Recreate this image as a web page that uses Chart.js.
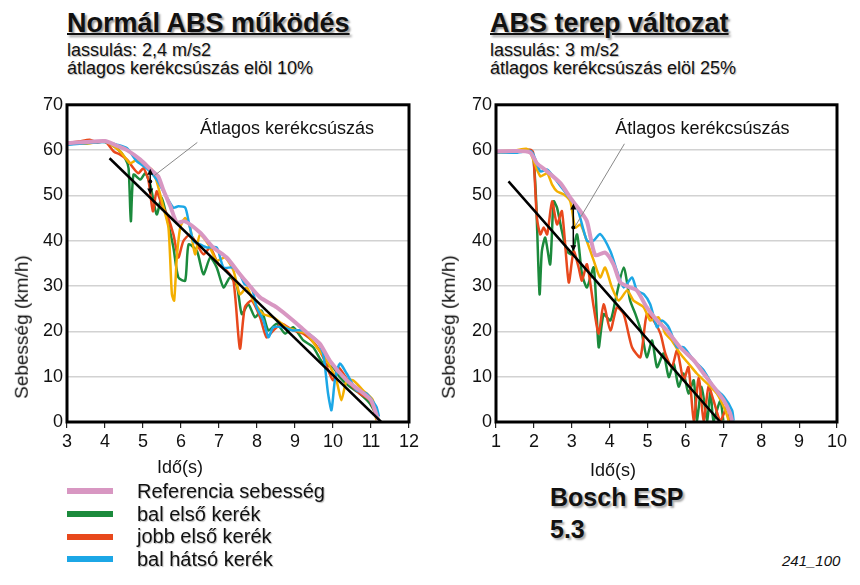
<!DOCTYPE html>
<html>
<head>
<meta charset="utf-8">
<script src="https://cdn.jsdelivr.net/npm/chart.js@4.4.0/dist/chart.umd.min.js"></script>
<style>
  body { margin: 0; background: #fff; width: 860px; height: 585px; position: relative; overflow: hidden;
         font-family: "Liberation Sans", Arial, sans-serif; color: #111; }
  .t { position: absolute; white-space: nowrap; }
  .title { font-weight: bold; font-size: 27px; line-height: 26px; text-decoration: underline;
           text-decoration-thickness: 2px; text-shadow: 2px 2px 2px #9a9a9a; }
  .sub { font-size: 18px; line-height: 17.5px; text-shadow: 1px 1px 1px #bbb; }
  .ytitle { font-size: 19px; transform: rotate(-90deg); transform-origin: center; }
  .xtitle { font-size: 18px; }
  .leg { position: absolute; left: 67px; top: 480px; }
  .leg div { display: flex; align-items: center; height: 22.7px; font-size: 20px; text-shadow: 1px 1px 1px #bbb; }
  .leg span.sw { display: inline-block; width: 46px; height: 6px; margin-right: 24px; }
  .bosch { font-weight: bold; font-size: 25px; line-height: 32px; text-shadow: 2px 2px 2px #aaa; }
  canvas { position: absolute; }
</style>
</head>
<body>
<div class="t title" style="left:67px; top:10px;">Normál ABS működés</div>
<div class="t sub" style="left:67px; top:42px;">lassulás: 2,4 m/s2<br>átlagos kerékcsúszás elöl 10%</div>
<div class="t title" style="left:490px; top:10px;">ABS terep változat</div>
<div class="t sub" style="left:490px; top:42px;">lassulás: 3 m/s2<br>átlagos kerékcsúszás elöl 25%</div>

<canvas id="left" width="430" height="372" style="left:0; top:90px;"></canvas>
<canvas id="right" width="430" height="372" style="left:430px; top:90px;"></canvas>

<div class="t ytitle" style="left:-50px; top:316px;">Sebesség (km/h)</div>
<div class="t ytitle" style="left:377px; top:316px;">Sebesség (km/h)</div>
<div class="t xtitle" style="left:157px; top:457px;">Idő(s)</div>
<div class="t xtitle" style="left:590px; top:460px;">Idő(s)</div>

<div class="leg" id="legend"></div>
<div class="t bosch" style="left:550px; top:481px;">Bosch ESP<br>5.3</div>
<div class="t" style="left:782px; top:552px; font-size:15px; font-style:italic;">241_100</div>

<script>
// ---- left chart: Normál ABS működés ----
const normRef = [[3.0,61.5],[3.5,61.8],[4.0,62],[4.3,61],[4.58,60],[4.93,57.9],[5.19,55.8],[5.4,54.2],[5.53,51.3],[5.72,47.6],[5.89,44],[6.1,44.3],[6.5,41.8],[6.85,38.5],[7.2,36.3],[7.55,32.6],[7.73,30.8],[8.08,27.5],[8.52,25.3],[8.95,22.4],[9.3,19.8],[9.65,17.3],[9.92,13.5],[10.36,9.2],[10.7,7.0],[11.0,4.8],[11.19,0.4]];
const normGreen = [[3.0,61.3],[3.5,61.6],[4.0,61.8],[4.31,60.4],[4.53,58.2],[4.62,56],[4.68,44.3],[4.75,54.6],[4.93,53.5],[5.06,54.9],[5.19,52.4],[5.36,45.8],[5.49,49.5],[5.63,45],[5.8,38.5],[5.93,31.9],[6.11,31.2],[6.2,39.2],[6.42,37.7],[6.59,32.6],[6.77,36.3],[6.94,34.1],[7.12,29.7],[7.29,31.9],[7.47,30.1],[7.6,23.8],[7.77,26],[7.95,23.1],[8.12,24.6],[8.3,20.2],[8.52,21.7],[8.74,19.5],[8.95,20.9],[9.22,18],[9.48,16.5],[9.74,12.9],[10.0,12.1],[10.18,9.9],[10.44,7.8],[10.7,6.3],[10.97,4.1],[11.19,0.8]];
const normRed = [[3.0,61.6],[3.3,61.9],[3.6,62.3],[3.8,61.7],[4.0,62],[4.23,59.7],[4.4,59],[4.58,57.9],[4.75,56],[4.88,54.9],[5.01,56],[5.14,53.5],[5.26,46.5],[5.36,50.9],[5.49,48],[5.63,45.8],[5.8,41.4],[5.93,36.3],[6.06,39.9],[6.24,41.4],[6.42,39.2],[6.59,37],[6.77,38.5],[6.98,34.8],[7.2,33.4],[7.38,31.2],[7.55,16.2],[7.68,25.3],[7.86,26.8],[8.08,23.1],[8.25,18.7],[8.43,20.2],[8.65,21.7],[8.95,20.2],[9.22,19.5],[9.52,17.3],[9.74,14.3],[10.0,9.2],[10.14,12.1],[10.44,8.5],[10.7,6.3],[10.97,4.8],[11.14,1.2]];
const normBlue = [[3.0,61.2],[3.5,61.5],[4.0,61.8],[4.31,61.2],[4.58,60.4],[4.84,57.5],[5.1,56],[5.36,53.5],[5.63,49.5],[5.8,47.3],[5.93,47.6],[6.11,47.3],[6.2,44.3],[6.33,39.9],[6.5,39.2],[6.68,38.5],[6.94,38.5],[7.12,34.1],[7.38,34.1],[7.55,32.6],[7.68,30.4],[7.86,29.7],[7.99,25.3],[8.17,22.4],[8.3,18.7],[8.43,20.9],[8.69,20.9],[8.95,20.2],[9.22,20.2],[9.57,18],[9.74,15.1],[9.87,6.3],[9.96,2.6],[10.05,9.2],[10.18,12.9],[10.36,10.7],[10.62,7],[10.88,6.3],[11.14,3.4],[11.21,1.2]];
const normYellow = [[3.0,61.5],[3.5,61.4],[4.0,61.9],[4.4,59.7],[4.66,57.1],[4.84,57.9],[5.01,56.8],[5.23,55.7],[5.36,53.1],[5.54,47.3],[5.67,42.9],[5.76,28.2],[5.82,26.8],[5.89,36.3],[5.98,42.9],[6.11,45],[6.24,42.9],[6.37,37],[6.5,41.4],[6.72,39.2],[6.94,35.6],[7.16,36.3],[7.38,33.4],[7.55,28.2],[7.73,29.7],[7.9,26.8],[8.17,23.8],[8.43,23.1],[8.78,20.9],[9.04,20.2],[9.3,19.5],[9.57,16.5],[9.83,13.6],[10.09,9.2],[10.22,4.8],[10.36,9.2],[10.53,9.2],[10.79,7.0],[11.05,4.8],[11.14,0.4]];
const normTrend = [[4.12,58.2],[11.27,0]];
const normArrow = [5.19, 55.9, 50.2];           // x, top, bottom
const normLeader = [[6.43,61.7],[5.27,54.2]];
const normNote = [6.5, 64.7];

// ---- right chart: ABS terep változat ----
const terRef = [[1.0,59.7],[1.5,59.8],[1.9,59.5],[2.08,57.1],[2.35,55.3],[2.7,52.7],[2.96,49.5],[3.23,46.5],[3.4,44.3],[3.62,36.8],[3.88,37.4],[4.1,34.8],[4.28,30.8],[4.54,29.7],[4.72,29],[4.98,25.3],[5.25,22.4],[5.51,20.2],[5.86,16.5],[6.22,13.6],[6.48,10.7],[6.74,7.8],[7.01,4.8],[7.18,1.9],[7.23,0.3]];
const terGreen = [[1.0,59.5],[1.5,59.6],[1.9,60],[1.98,59],[2.06,48.7],[2.15,28.2],[2.21,37.7],[2.3,40.7],[2.43,34.8],[2.52,48.7],[2.61,47.3],[2.74,42.1],[2.87,37.7],[3.0,37],[3.14,41.4],[3.27,32.6],[3.4,29.7],[3.58,34.1],[3.71,16.5],[3.84,23.8],[4.02,22.4],[4.15,26.8],[4.37,34.1],[4.54,26.8],[4.68,23.8],[4.85,19.5],[4.98,14.3],[5.12,18],[5.25,12.1],[5.42,15.1],[5.56,9.9],[5.69,12.9],[5.82,7.8],[5.95,10.7],[6.08,6.3],[6.22,9.2],[6.3,0.3],[6.43,7.8],[6.57,0.3],[6.66,7],[6.74,0.3],[6.92,4.8],[7.0,0.3]];
const terRed = [[1.0,59.6],[1.5,59.7],[1.9,60.1],[1.98,59.5],[2.08,45],[2.17,41.4],[2.26,42.9],[2.35,41.4],[2.48,48.7],[2.61,43.6],[2.74,46.5],[2.92,30.8],[3.05,37.7],[3.18,34.1],[3.27,31.2],[3.4,34.8],[3.58,25.3],[3.71,19.5],[3.84,26],[4.02,20.2],[4.19,25.3],[4.37,23.8],[4.59,16.5],[4.81,14.3],[4.98,23.8],[5.16,22.4],[5.34,19.5],[5.47,15.1],[5.64,12.1],[5.78,15.8],[5.95,9.2],[6.08,12.1],[6.22,0.3],[6.35,9.9],[6.48,0.3],[6.61,7.8],[6.74,4.8],[6.92,0.3],[7.1,3.4],[7.18,0.3]];
const terBlue = [[1.0,59.6],[1.5,59.4],[1.9,59.8],[1.99,59],[2.17,55.3],[2.35,55.7],[2.61,53.1],[2.87,50.2],[3.14,47.3],[3.4,40],[3.57,40],[3.75,41.5],[4.02,37.7],[4.19,33.4],[4.37,29.7],[4.59,31.9],[4.72,29],[4.9,28.2],[5.07,26],[5.25,20.9],[5.38,22.4],[5.56,20.9],[5.78,16.5],[5.95,16.5],[6.22,13.6],[6.48,11.4],[6.74,7.8],[7.01,5.6],[7.23,2.6],[7.27,0.3]];
const terYellow = [[1.0,59.7],[1.5,59.9],[1.8,60.3],[1.9,59.6],[2.17,54.2],[2.35,54.9],[2.48,52.4],[2.61,50.9],[2.79,50.2],[2.96,48.7],[3.09,42.9],[3.23,43.6],[3.4,39.9],[3.58,35.6],[3.75,31.9],[3.88,34.1],[4.06,29.7],[4.24,26.8],[4.46,29],[4.63,26.8],[4.9,25.3],[5.07,22.4],[5.29,23.1],[5.47,19.5],[5.64,18],[5.86,15.1],[6.08,12.9],[6.3,10.7],[6.57,8.5],[6.83,6.3],[7.05,2.6],[7.14,0.3]];
const terTrend = [[1.33,53.1],[6.92,0]];
const terArrow = [3.04, 48.2, 37.7];
const terLeader = [[4.39,61.4],[3.09,43.2]];
const terNote = [4.15, 64.7];

const noteText = "Átlagos kerékcsúszás";
const legendLabels = ["Referencia sebesség", "bal első kerék", "jobb első kerék", "bal hátsó kerék"];
const colors = { ref: "#D897C2", green: "#1B8A3C", red: "#E8481C", blue: "#1CA7E6", yellow: "#F4AF00" };

const legendColors = [colors.ref, colors.green, colors.red, colors.blue];
const legEl = document.getElementById("legend");
legendLabels.forEach((lbl, i) => {
  const row = document.createElement("div");
  row.innerHTML = '<span class="sw" style="background:' + legendColors[i] + '"></span>' + lbl;
  legEl.appendChild(row);
});

const pts = arr => arr.map(p => ({ x: p[0], y: p[1] }));

// frame + annotation drawn on top
const framePlugin = {
  id: "frame",
  afterDatasetsDraw(chart, args, opts) {
    const { ctx, chartArea: a, scales: { x, y } } = chart;
    ctx.save();
    // note text
    ctx.fillStyle = "#111";
    ctx.font = "18px 'Liberation Sans', Arial, sans-serif";
    ctx.textBaseline = "middle";
    ctx.fillText(noteText, x.getPixelForValue(opts.note[0]), y.getPixelForValue(opts.note[1]));
    // leader line
    ctx.strokeStyle = "#888";
    ctx.lineWidth = 1;
    ctx.beginPath();
    ctx.moveTo(x.getPixelForValue(opts.leader[0][0]), y.getPixelForValue(opts.leader[0][1]));
    ctx.lineTo(x.getPixelForValue(opts.leader[1][0]), y.getPixelForValue(opts.leader[1][1]));
    ctx.stroke();
    // double arrow
    const ax = x.getPixelForValue(opts.arrow[0]);
    const y1 = y.getPixelForValue(opts.arrow[1]);
    const y2 = y.getPixelForValue(opts.arrow[2]);
    ctx.strokeStyle = "#000";
    ctx.fillStyle = "#000";
    ctx.lineWidth = 1.5;
    ctx.beginPath();
    ctx.moveTo(ax, y1 + 3); ctx.lineTo(ax, y2 - 3);
    ctx.stroke();
    ctx.beginPath();
    ctx.moveTo(ax, y1); ctx.lineTo(ax - 3, y1 + 6); ctx.lineTo(ax + 3, y1 + 6); ctx.closePath();
    ctx.moveTo(ax, y2); ctx.lineTo(ax - 3, y2 - 6); ctx.lineTo(ax + 3, y2 - 6); ctx.closePath();
    ctx.fill();
    ctx.beginPath();
    ctx.arc(ax, (y1 + y2) / 2, 2, 0, Math.PI * 2);
    ctx.fill();
    // thick frame
    ctx.strokeStyle = "#000";
    ctx.lineWidth = 3;
    ctx.strokeRect(a.left, a.top, a.right - a.left, a.bottom - a.top);
    ctx.restore();
  }
};

function line(data, color, width) {
  return { data: pts(data), borderColor: color, borderWidth: width, pointRadius: 0, tension: 0.22, fill: false };
}

function makeChart(id, xMin, xMax, s, yWidth, padRight, note) {
  const tickFont = { family: "'Liberation Sans', Arial, sans-serif", size: 18 };
  return new Chart(document.getElementById(id), {
    type: "line",
    data: {
      datasets: [
        line(s.trend, "#000", 2.5),
        line(s.ref, colors.ref, 4),
        line(s.blue, colors.blue, 2.5),
        line(s.yellow, colors.yellow, 2.5),
        line(s.red, colors.red, 2.5),
        line(s.green, colors.green, 2.5)
      ]
    },
    options: {
      responsive: false,
      animation: false,
      devicePixelRatio: 1,
      layout: { padding: { left: 0, right: padRight, top: 14, bottom: 10 } },
      plugins: { legend: { display: false }, tooltip: { enabled: false }, frame: note },
      scales: {
        x: {
          type: "linear", min: xMin, max: xMax,
          ticks: { stepSize: 1, color: "#111", font: tickFont, padding: 3, maxRotation: 0 },
          grid: { drawOnChartArea: false, drawTicks: true, tickLength: 6, color: "#222", lineWidth: 1.2 },
          border: { display: false },
          afterFit: sc => { sc.height = 30; }
        },
        y: {
          min: 0, max: 70,
          ticks: { stepSize: 10, color: "#111", font: tickFont, padding: 4 },
          grid: { color: "#d2d2d2", lineWidth: 1.5, drawTicks: false },
          border: { display: false },
          afterFit: sc => { sc.width = yWidth; }
        }
      }
    },
    plugins: [framePlugin]
  });
}

makeChart("left", 3, 12,
  { ref: normRef, green: normGreen, red: normRed, blue: normBlue, yellow: normYellow, trend: normTrend },
  67, 21, { note: normNote, leader: normLeader, arrow: normArrow });
makeChart("right", 1, 10,
  { ref: terRef, green: terGreen, red: terRed, blue: terBlue, yellow: terYellow, trend: terTrend },
  66, 23, { note: terNote, leader: terLeader, arrow: terArrow });
</script>
</body>
</html>
